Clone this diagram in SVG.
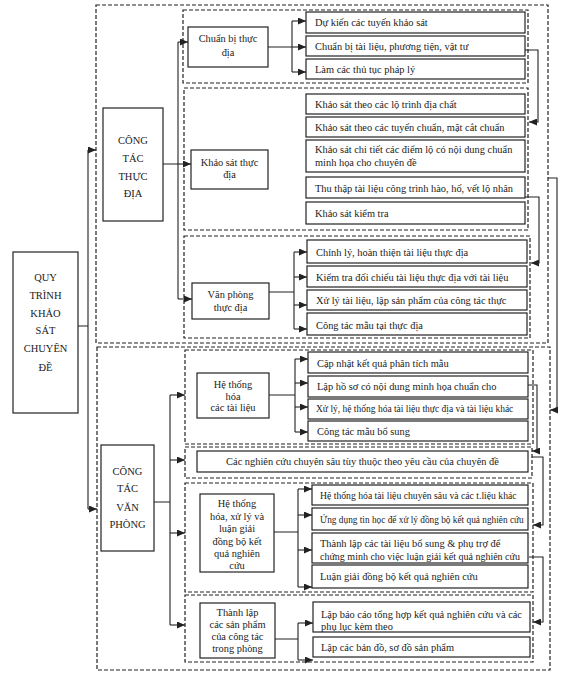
<svg xmlns="http://www.w3.org/2000/svg" width="566" height="679" viewBox="0 0 566 679">
<style>
.bg{fill:#fff}
.box{fill:#fff;stroke:#222;stroke-width:1.2}
.dash{fill:none;stroke:#222;stroke-width:1.2;stroke-dasharray:4 2}
.ln{fill:none;stroke:#222;stroke-width:1.1}
.ar{fill:none;stroke:#222;stroke-width:1.1;marker-end:url(#ah)}
text{font-family:"Liberation Serif","DejaVu Serif",serif;font-size:10.4px;fill:#222}
.c{text-anchor:middle}
.cap{font-size:10.5px}
.s93{font-size:9.3px}
.s95{font-size:9.5px}
.s97{font-size:9.7px}
.s100{font-size:10px}
</style>
<defs>
<marker id="ah" markerUnits="userSpaceOnUse" markerWidth="8" markerHeight="7" refX="8" refY="3.5" orient="auto">
<path d="M0,0 L8,3.5 L0,7 z" fill="#222"/>
</marker>
</defs>
<rect class="bg" x="0" y="0" width="566" height="679"/>

<g id="groups">
<rect class="dash" x="96" y="5" width="452" height="338"/>
<rect class="dash" x="183" y="10" width="345" height="73"/>
<rect class="dash" x="184" y="88" width="344" height="142"/>
<rect class="dash" x="184" y="236" width="346" height="102"/>
<rect class="dash" x="97" y="347" width="453" height="323"/>
<rect class="dash" x="185" y="350" width="348" height="94"/>
<rect class="dash" x="185" y="447" width="347" height="31"/>
<rect class="dash" x="185" y="483" width="348" height="109"/>
<rect class="dash" x="185" y="595" width="348" height="67"/>
</g>

<g id="connectors">
<path class="ln" d="M78,326 H88 M88,150 V509"/>
<path class="ar" d="M88,150 H96"/>
<path class="ar" d="M88,509 H97"/>
<path class="ln" d="M163,164 H178 M178,42 V299"/>
<path class="ar" d="M178,42 H188"/>
<path class="ar" d="M178,164 H191"/>
<path class="ar" d="M178,299 H192"/>
<path class="ln" d="M268,47 H292 M292,21 V72"/>
<path class="ar" d="M292,21 H306"/>
<path class="ar" d="M292,47 H306"/>
<path class="ar" d="M292,72 H306"/>
<path class="ln" d="M269,292 H294 M294,252 V329"/>
<path class="ar" d="M294,252 H307"/>
<path class="ar" d="M294,277 H307"/>
<path class="ar" d="M294,305 H307"/>
<path class="ar" d="M294,329 H307"/>
<path class="ln" d="M154,502 H170 M170,395 V625"/>
<path class="ar" d="M170,395 H185"/>
<path class="ar" d="M170,460 H185"/>
<path class="ar" d="M170,533 H185"/>
<path class="ar" d="M170,625 H185"/>
<path class="ln" d="M269,395 H295 M295,359 V432"/>
<path class="ar" d="M295,359 H308"/>
<path class="ar" d="M295,383 H308"/>
<path class="ar" d="M295,407 H308"/>
<path class="ar" d="M295,432 H308"/>
<path class="ln" d="M274,532 H298 M298,489 V587"/>
<path class="ar" d="M298,489 H312"/>
<path class="ar" d="M298,515 H312"/>
<path class="ar" d="M298,550 H312"/>
<path class="ar" d="M298,587 H312"/>
<path class="ln" d="M275,639 H298 M298,623 V660"/>
<path class="ar" d="M298,623 H313"/>
<path class="ar" d="M298,660 H313"/>
<path class="ar" d="M525,50 H538 V122 H529"/>
<path class="ar" d="M525,197 H539 V263 H531"/>
<path class="ar" d="M548,178 H557 V410 H550"/>
<path class="ar" d="M528,385 H537 V451 H532"/>
<path class="ar" d="M532,457 H543 V525 H533"/>
<path class="ar" d="M529,557 H543 V622 H533"/>
</g>

<g id="root">
<rect class="box" x="13" y="252" width="65" height="161"/>
<text class="c cap" x="45.5" y="281">QUY</text>
<text class="c cap" x="45.5" y="299">TRÌNH</text>
<text class="c cap" x="45.5" y="317">KHẢO</text>
<text class="c cap" x="45.5" y="334">SÁT</text>
<text class="c cap" x="45.5" y="352">CHUYÊN</text>
<text class="c cap" x="45.5" y="371">ĐỀ</text>
</g>

<g id="cong-tac-thuc-dia">
<rect class="box" x="103" y="108" width="60" height="113"/>
<text class="c cap" x="133" y="144">CÔNG</text>
<text class="c cap" x="133" y="162">TÁC</text>
<text class="c cap" x="133" y="180">THỰC</text>
<text class="c cap" x="133" y="197">ĐỊA</text>
</g>

<g id="chuan-bi">
<rect class="box" x="188" y="27" width="80" height="40"/>
<text class="c" x="228" y="42">Chuẩn bị thực</text>
<text class="c" x="228" y="56">địa</text>
</g>
<g id="chuan-bi-items">
<rect class="box" x="306" y="12" width="219" height="21"/>
<text x="315" y="26">Dự kiến các tuyến khảo sát</text>
<rect class="box" x="306" y="36" width="219" height="20"/>
<text x="315" y="50">Chuẩn bị tài liệu, phương tiện, vật tư</text>
<rect class="box" x="306" y="59" width="219" height="20"/>
<text x="315" y="73">Làm các thủ tục pháp lý</text>
</g>

<g id="khao-sat">
<rect class="box" x="191" y="150" width="77" height="39"/>
<text class="c" x="229.5" y="166">Khảo sát thực</text>
<text class="c" x="229.5" y="178">địa</text>
</g>
<g id="khao-sat-items">
<rect class="box" x="306" y="94" width="219" height="20"/>
<text x="315" y="108">Khảo sát theo các lộ trình địa chất</text>
<rect class="box" x="306" y="117" width="219" height="20"/>
<text x="315" y="131">Khảo sát theo các tuyến chuẩn, mặt cắt chuẩn</text>
<rect class="box" x="306" y="140" width="219" height="32"/>
<text x="315" y="153">Khảo sát chi tiết các điểm lộ có nội dung chuẩn</text>
<text x="315" y="166">minh họa cho chuyên đề</text>
<rect class="box" x="306" y="177" width="219" height="21"/>
<text x="315" y="192">Thu thập tài liệu công trình hào, hố, vết lộ nhân</text>
<rect class="box" x="306" y="202" width="219" height="22"/>
<text x="315" y="217">Khảo sát kiểm tra</text>
</g>

<g id="van-phong-thuc-dia">
<rect class="box" x="192" y="283" width="77" height="36"/>
<text class="c" x="230.5" y="298">Văn phòng</text>
<text class="c" x="230.5" y="311">thực địa</text>
</g>
<g id="van-phong-thuc-dia-items">
<rect class="box" x="307" y="240" width="220" height="23"/>
<text x="316" y="256">Chỉnh lý, hoàn thiện tài liệu thực địa</text>
<rect class="box" x="307" y="266" width="220" height="21"/>
<text x="316" y="281">Kiểm tra đối chiếu tài liệu thực địa với tài liệu</text>
<rect class="box" x="307" y="290" width="220" height="20"/>
<text x="316" y="304">Xử lý tài liệu, lập sản phẩm của công tác thực</text>
<rect class="box" x="307" y="313" width="220" height="22"/>
<text x="316" y="329">Công tác mẫu tại thực địa</text>
</g>

<g id="cong-tac-van-phong">
<rect class="box" x="101" y="445" width="53" height="106"/>
<text class="c cap" x="127.5" y="475">CÔNG</text>
<text class="c cap" x="127.5" y="492">TÁC</text>
<text class="c cap" x="127.5" y="511">VĂN</text>
<text class="c cap" x="127.5" y="528">PHÒNG</text>
</g>

<g id="he-thong-hoa-tai-lieu">
<rect class="box" x="197" y="373" width="72" height="45"/>
<text class="c" x="233" y="388">Hệ thống</text>
<text class="c" x="233" y="400">hóa</text>
<text class="c" x="233" y="411">các tài liệu</text>
</g>
<g id="he-thong-hoa-tai-lieu-items">
<rect class="box" x="308" y="352" width="220" height="21"/>
<text x="317" y="367">Cập nhật kết quả phân tích mẫu</text>
<rect class="box" x="308" y="376" width="220" height="21"/>
<text x="317" y="390">Lập hồ sơ có nội dung minh họa chuẩn cho</text>
<rect class="box" x="308" y="399" width="220" height="20"/>
<text class="s95" x="316" y="412">Xử lý, hệ thống hóa tài liệu thực địa và tài liệu khác</text>
<rect class="box" x="308" y="421" width="220" height="20"/>
<text x="317" y="435">Công tác mẫu bổ sung</text>
</g>

<g id="nghien-cuu-chuyen-sau">
<rect class="box" x="197" y="451" width="331" height="21"/>
<text class="c" x="362.5" y="465">Các nghiên cứu chuyên sâu tùy thuộc theo yêu cầu của chuyên đề</text>
</g>

<g id="he-thong-hoa-xu-ly">
<rect class="box" x="200" y="494" width="74" height="78"/>
<text class="c" x="237" y="507">Hệ thống</text>
<text class="c" x="237" y="519.5">hóa, xử lý và</text>
<text class="c" x="237" y="532">luận giải</text>
<text class="c" x="237" y="544.5">đồng bộ kết</text>
<text class="c" x="237" y="557">quả nghiên</text>
<text class="c" x="237" y="569">cứu</text>
</g>
<g id="he-thong-hoa-xu-ly-items">
<rect class="box" x="312" y="485" width="216" height="20"/>
<text class="s97" x="320" y="499">Hệ thống hóa tài liệu chuyên sâu và các t.liệu khác</text>
<rect class="box" x="312" y="508" width="216" height="22"/>
<text class="s93" x="320" y="523">Ứng dụng tin học để xử lý đồng bộ kết quả nghiên cứu</text>
<rect class="box" x="312" y="533" width="216" height="30"/>
<text x="320" y="547">Thành lập các tài liệu bổ sung &amp; phụ trợ để</text>
<text class="s100" x="320" y="560">chứng minh cho việc luận giải kết quả nghiên cứu</text>
<rect class="box" x="312" y="565" width="216" height="23"/>
<text x="320" y="580">Luận giải đồng bộ kết quả nghiên cứu</text>
</g>

<g id="thanh-lap-san-pham">
<rect class="box" x="200" y="603" width="75" height="55"/>
<text class="c" x="237.5" y="616">Thành lập</text>
<text class="c" x="237.5" y="628">các sản phẩm</text>
<text class="c" x="237.5" y="640">của công tác</text>
<text class="c" x="237.5" y="652">trong phòng</text>
</g>
<g id="thanh-lap-san-pham-items">
<rect class="box" x="313" y="602" width="217" height="30"/>
<text x="321" y="618">Lập báo cáo tổng hợp kết quả nghiên cứu và các</text>
<text x="321" y="630">phụ lục kèm theo</text>
<rect class="box" x="313" y="637" width="217" height="20"/>
<text x="321" y="651">Lập các bản đồ, sơ đồ sản phẩm</text>
</g>
</svg>
